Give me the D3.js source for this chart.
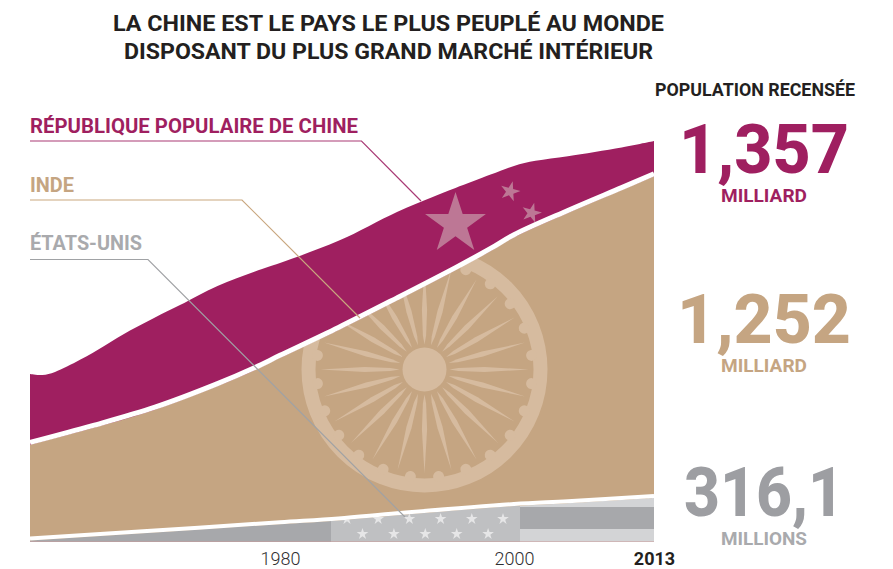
<!DOCTYPE html>
<html>
<head>
<meta charset="utf-8">
<script src="https://cdn.jsdelivr.net/npm/d3@7"></script>
<style>
    html, body { margin: 0; padding: 0; background: #fff; }
    svg { display: block; }
    text { font-family: Roboto, "Liberation Sans", sans-serif; }
</style>
</head>
<body>
<svg width="893" height="569"></svg>
<script>
var titleLines = ["LA CHINE EST LE PAYS LE PLUS PEUPLÉ AU MONDE", "DISPOSANT DU PLUS GRAND MARCHÉ INTÉRIEUR"];

var chinaYears = [1960, 1961, 1962, 1964, 1966, 1968, 1970, 1972, 1975, 1978, 1980, 1985, 1990, 1993, 1995, 1998, 2000, 2002, 2005, 2010, 2013];
var chinaPop = [664, 661, 670, 706, 749, 793, 832, 869, 926, 969, 994, 1060, 1146, 1190, 1217, 1257, 1283, 1298, 1312, 1338, 1357];

var indiaYears = [1960, 1965, 1970, 1975, 1978, 1980, 1985, 1990, 1995, 1998, 2000, 2005, 2010, 2013];
var indiaPop = [453, 503, 558, 628, 676, 712, 795, 883, 973, 1030, 1071, 1143, 1211, 1252];

var usYears = [1960, 1970, 1980, 1985, 1990, 2000, 2005, 2013];
var usPop = [183, 208, 234, 246, 262, 291, 300, 316.1];

var tickYears = [1980, 2000, 2013];

var chinaColor = "#9f1f60", indiaColor = "#c5a582", usColor = "#a7a8ab";

var svg = d3.select("svg");

// years are not evenly spaced on the original, hence the piecewise scale
var x = d3.scaleLinear().domain([1960, 1980, 2000, 2013]).range([30, 280, 514, 654]);
var y = d3.scaleLinear().domain([661, 1357]).range([375, 141]);
// the US band is drawn on its own squashed scale
var yUs = d3.scaleLinear().domain([180, 316.1]).range([541.5, 498]);

function zip(years, pop) {
    return years.map(function (d, i) { return {year: d, pop: pop[i]}; });
}
var china = zip(chinaYears, chinaPop),
    india = zip(indiaYears, indiaPop),
    us = zip(usYears, usPop);

var base = 541.5;
var curve = d3.curveCatmullRom.alpha(0.5);

var lineIndia = d3.line().x(function (d) { return x(d.year); }).y(function (d) { return y(d.pop); }).curve(curve);
var lineUs = d3.line().x(function (d) { return x(d.year); }).y(function (d) { return yUs(d.pop); }).curve(curve);

var areaPop = d3.area().x(function (d) { return x(d.year); }).y0(base).y1(function (d) { return y(d.pop); }).curve(curve);
var areaUs = d3.area().x(function (d) { return x(d.year); }).y0(base).y1(function (d) { return yUs(d.pop); }).curve(curve);

var defs = svg.append("defs");
defs.append("clipPath").attr("id", "clip-india").append("path").attr("d", areaPop(india));
defs.append("clipPath").attr("id", "clip-us").append("path").attr("d", areaUs(us));

svg.append("path").attr("d", areaPop(china)).attr("fill", chinaColor);
svg.append("path").attr("d", areaPop(india)).attr("fill", indiaColor);

// chinese flag stars
var starColor = "#bd7795";
[[455.5, 224, 32, 0], [510, 191.5, 10.5, 15], [531.5, 213, 10.5, 15]].forEach(function (s) {
    svg.append("path")
        .attr("d", d3.symbol().type(d3.symbolStar).size(s[2] * s[2] / 0.8908)())
        .attr("transform", "translate(" + s[0] + "," + s[1] + ") rotate(" + s[3] + ")")
        .attr("fill", starColor);
});

// ashoka wheel
var wheelColor = "#d6bb9f";
var wheel = svg.append("g")
    .attr("clip-path", "url(#clip-india)")
    .append("g")
    .attr("transform", "translate(424.5,369.5)")
    .attr("fill", wheelColor);
wheel.append("circle").attr("r", 22);
wheel.append("circle").attr("r", 116).attr("fill", "none").attr("stroke", wheelColor).attr("stroke-width", 14);
d3.range(24).forEach(function (i) {
    var g = wheel.append("g").attr("transform", "rotate(" + (i * 15) + ")");
    g.append("path").attr("d", "M25,0L34,-1.6L60,-2.6L104,0L60,2.6L34,1.6Z");
    g.append("circle").attr("cx", 108).attr("r", 5.5).attr("transform", "rotate(7.5)");
});

// american flag
var usGroup = svg.append("g").attr("clip-path", "url(#clip-us)");
usGroup.append("rect").attr("x", 30).attr("y", 490).attr("width", 301).attr("height", 52).attr("fill", usColor);
usGroup.append("rect").attr("x", 331).attr("y", 490).attr("width", 189).attr("height", 52).attr("fill", "#bfc0c2");
usGroup.append("rect").attr("x", 520).attr("y", 490).attr("width", 134).attr("height", 52).attr("fill", "#d3d4d6");
usGroup.append("rect").attr("x", 520).attr("y", 507).attr("width", 134).attr("height", 22).attr("fill", usColor);
d3.range(6).forEach(function (i) {
    usGroup.append("path").attr("d", d3.symbol().type(d3.symbolStar).size(42)())
        .attr("transform", "translate(" + (347 + i * 31.2) + ",519)").attr("fill", "#e6e6e7");
});
d3.range(5).forEach(function (i) {
    usGroup.append("path").attr("d", d3.symbol().type(d3.symbolStar).size(42)())
        .attr("transform", "translate(" + (362.5 + i * 31.4) + ",534)").attr("fill", "#e6e6e7");
});

// white separators
svg.append("path").attr("d", lineIndia(india))
    .attr("transform", "translate(0,-2.5)")
    .attr("fill", "none").attr("stroke", "#fff").attr("stroke-width", 5);
svg.append("path").attr("d", lineUs(us))
    .attr("transform", "translate(0,-2)")
    .attr("fill", "none").attr("stroke", "#fff").attr("stroke-width", 4);

// leader lines
function leader(points, color) {
    svg.append("path").attr("d", d3.line()(points)).attr("fill", "none").attr("stroke", color).attr("stroke-width", 1.2);
}
leader([[30, 141], [361.5, 141], [421, 201]], "#a93a75");
leader([[30, 200], [242, 200], [360, 318]], "#c9a77f");
leader([[30, 259.5], [148, 259.5], [405, 517]], "#a0a2a5");

function label(txt, px, py, size, weight, color, anchor, len) {
    var t = svg.append("text")
        .attr("x", px).attr("y", py)
        .attr("font-size", size).attr("font-weight", weight)
        .attr("fill", color).attr("text-anchor", anchor || "start")
        .text(txt);
    if (len) t.attr("textLength", len).attr("lengthAdjust", "spacingAndGlyphs");
    return t;
}

label(titleLines[0], 388.5, 31, 22, 700, "#231f20", "middle", 551);
label(titleLines[1], 388.5, 59, 22, 700, "#231f20", "middle", 529);

label("RÉPUBLIQUE POPULAIRE DE CHINE", 30, 132.5, 19.5, 700, chinaColor, "start", 328);
label("INDE", 30, 191.5, 19.5, 700, indiaColor, "start", 44);
label("ÉTATS-UNIS", 30, 250, 19.5, 700, "#a9aaad", "start", 112);

label("POPULATION RECENSÉE", 755, 95.5, 17.5, 700, "#231f20", "middle", 200);
label("1,357", 764, 173, 68, 800, chinaColor, "middle", 170);
label("MILLIARD", 764, 201.5, 18, 700, chinaColor, "middle", 86);
label("1,252", 764, 342.5, 68, 800, indiaColor, "middle", 174);
label("MILLIARD", 764, 371.5, 18, 700, indiaColor, "middle", 86);
label("316,1", 764, 516, 68, 800, "#9d9ea2", "middle", 160);
label("MILLIONS", 764, 544.5, 18, 700, "#a9aaad", "middle", 86);

// x axis
var axis = svg.append("g")
    .attr("class", "x axis")
    .attr("transform", "translate(0,549)")
    .call(d3.axisBottom(x).tickValues(tickYears).tickFormat(d3.format("d")).tickSize(0));
axis.select(".domain").remove();
axis.selectAll("text")
    .attr("font-family", "Roboto, sans-serif")
    .attr("font-size", 18)
    .attr("font-weight", 300)
    .attr("fill", "#2f2f31")
    .attr("dy", "0.71em");
axis.selectAll("text").filter(function (d) { return d === 2013; })
    .attr("font-weight", 700)
    .attr("fill", "#231f20")
    .attr("y", 3);
</script>
</body>
</html>
